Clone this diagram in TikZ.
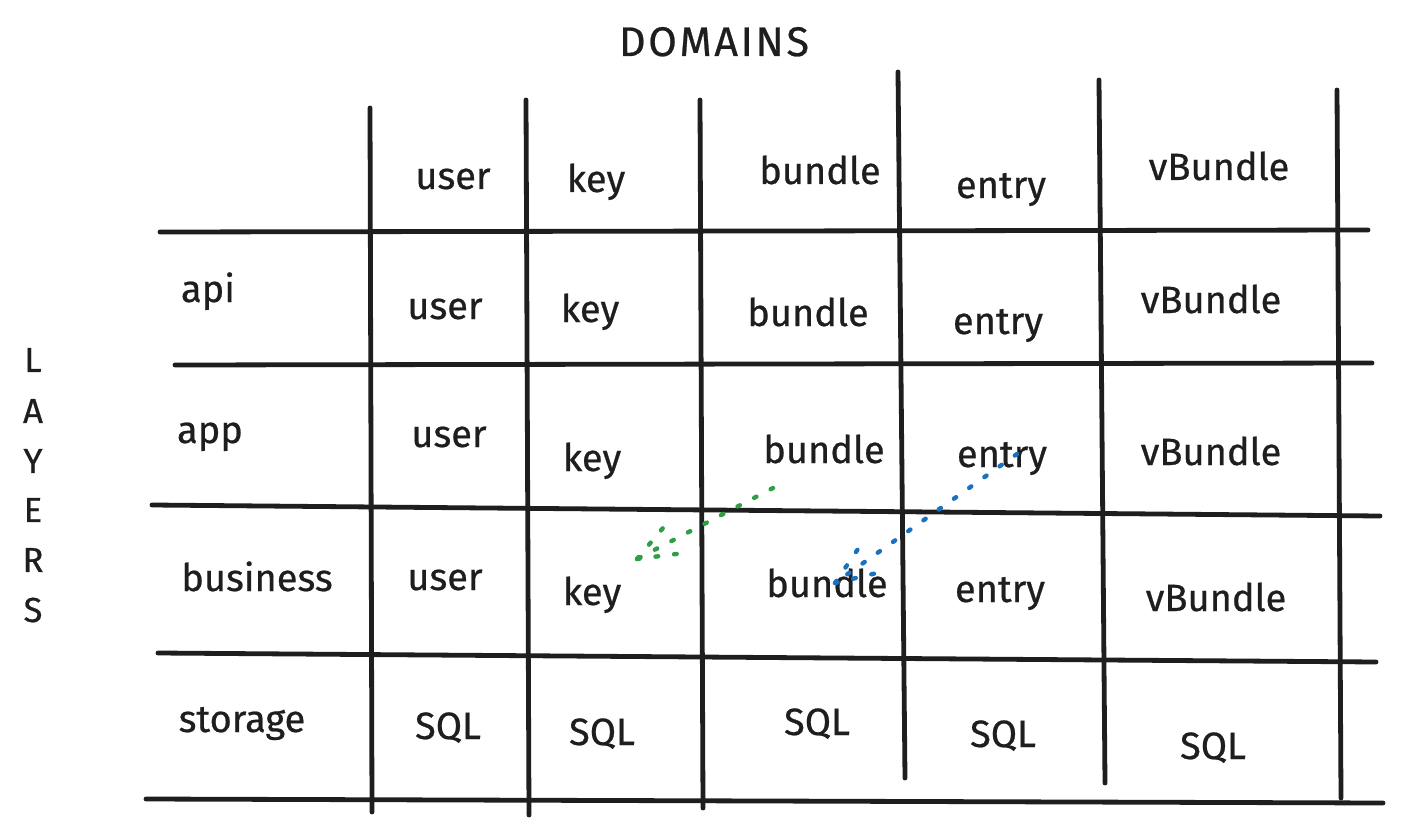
\documentclass[tikz,border=0pt]{standalone}
\usepackage{fontspec}
\setmainfont{Fira Sans}[FakeBold=0.6,AutoFakeBold=0.6]
\definecolor{ink}{HTML}{1E1E1E}
\definecolor{grn}{HTML}{2F9E44}
\definecolor{blu}{HTML}{1971C2}
\begin{document}
\begin{tikzpicture}[x=0.75pt,y=-0.75pt,
  gridline/.style={draw=ink,line width=3.6pt,line cap=round},
  lbl/.style={anchor=base,inner sep=0pt,font=\fontsize{28.5}{33}\selectfont,text=ink},
  title/.style={anchor=base,inner sep=0pt,font=\fontsize{31}{36}\selectfont,text=ink},
  letter/.style={anchor=center,inner sep=0pt,font=\fontsize{26}{30}\selectfont,text=ink},
  dotarrow/.style={line width=3.3pt,line cap=round,dash pattern=on 2pt off 12pt}
]
\useasboundingbox (0,0) rectangle (1403,831);
\fill[white] (0,0) rectangle (1403,831);

% grid end points
\coordinate (h1a) at (160,232); \coordinate (h1b) at (1368,230);
\coordinate (h2a) at (175,365); \coordinate (h2b) at (1372,363);
\coordinate (h3a) at (152,505); \coordinate (h3b) at (1380,516);
\coordinate (h4a) at (158,653); \coordinate (h4b) at (1376,662);
\coordinate (h5a) at (146,799); \coordinate (h5b) at (1383,803);
\coordinate (v1a) at (370,108); \coordinate (v1b) at (372,812);
\coordinate (v2a) at (526,100); \coordinate (v2b) at (529,815);
\coordinate (v3a) at (700,100); \coordinate (v3b) at (703,808);
\coordinate (v4a) at (898,72);  \coordinate (v4b) at (905,778);
\coordinate (v5a) at (1099,80); \coordinate (v5b) at (1105,783);
\coordinate (v6a) at (1337,90); \coordinate (v6b) at (1341,798);

\foreach \n in {h1,h2,h3,h4,h5,v1,v2,v3,v4,v5,v6}
  \draw[gridline] (\n a) -- (\n b);

% titles
\node[title] (domains) at (714,56) {D\kern2pt O\kern2pt M\kern2pt A\kern2pt I\kern2pt N\kern2pt S};
\node[letter] (lL) at (33,360) {L};
\node[letter] (lA) at (33,411) {A};
\node[letter] (lY) at (33,461) {Y};
\node[letter] (lE) at (33,510) {E};
\node[letter] (lR) at (33,560) {R};
\node[letter] (lS) at (33,610) {S};

% header row
\node[lbl] (hd-user) at (453,189) {user};
\node[lbl] (hd-key) at (596,192) {key};
\node[lbl] (hd-bundle) at (820,184) {bundle};
\node[lbl] (hd-entry) at (1001,198) {entry};
\node[lbl] (hd-vbundle) at (1219,180) {vBundle};

% api row
\node[lbl] (api) at (208,302) {api};
\node[lbl] (api-user) at (445,319) {user};
\node[lbl] (api-key) at (590,322) {key};
\node[lbl] (api-bundle) at (808,326) {bundle};
\node[lbl] (api-entry) at (998,334) {entry};
\node[lbl] (api-vbundle) at (1211,313) {vBundle};

% app row
\node[lbl] (app) at (210,443) {app};
\node[lbl] (app-user) at (449,447) {user};
\node[lbl] (app-key) at (592,471) {key};
\node[lbl] (app-bundle) at (824,463) {bundle};
\node[lbl] (app-entry) at (1002,467) {entry};
\node[lbl] (app-vbundle) at (1211,465) {vBundle};

% business row
\node[lbl] (bus) at (257,591) {business};
\node[lbl] (bus-user) at (445,590) {user};
\node[lbl] (bus-key) at (592,605) {key};
\node[lbl] (bus-bundle) at (827,597) {bundle};
\node[lbl] (bus-entry) at (1000,602) {entry};
\node[lbl] (bus-vbundle) at (1216,611) {vBundle};

% storage row
\node[lbl] (sto) at (242,732) {storage};
\node[lbl] (sto-user) at (448,739) {SQL};
\node[lbl] (sto-key) at (602,745) {SQL};
\node[lbl] (sto-bundle) at (817,735) {SQL};
\node[lbl] (sto-entry) at (1003,747) {SQL};
\node[lbl] (sto-vbundle) at (1213,759) {SQL};

% green dotted arrow (app bundle -> business key)
\coordinate (gs) at (773,488);
\coordinate (gt) at (637,559);
\coordinate (gh1) at (668,522);
\coordinate (gh2) at (684,553);
\draw[dotarrow,draw=grn] (gs) -- (gt);
\draw[dotarrow,draw=grn] (gt) -- (gh1);
\draw[dotarrow,draw=grn] (gt) -- (gh2);

% blue dotted arrow (app entry -> business bundle)
\coordinate (bs) at (1017,454);
\coordinate (bt) at (835,583);
\coordinate (bh1) at (860,546);
\coordinate (bh2) at (881,572);
\draw[dotarrow,draw=blu] (bs) -- (bt);
\draw[dotarrow,draw=blu] (bt) -- (bh1);
\draw[dotarrow,draw=blu] (bt) -- (bh2);
\end{tikzpicture}
\end{document}
